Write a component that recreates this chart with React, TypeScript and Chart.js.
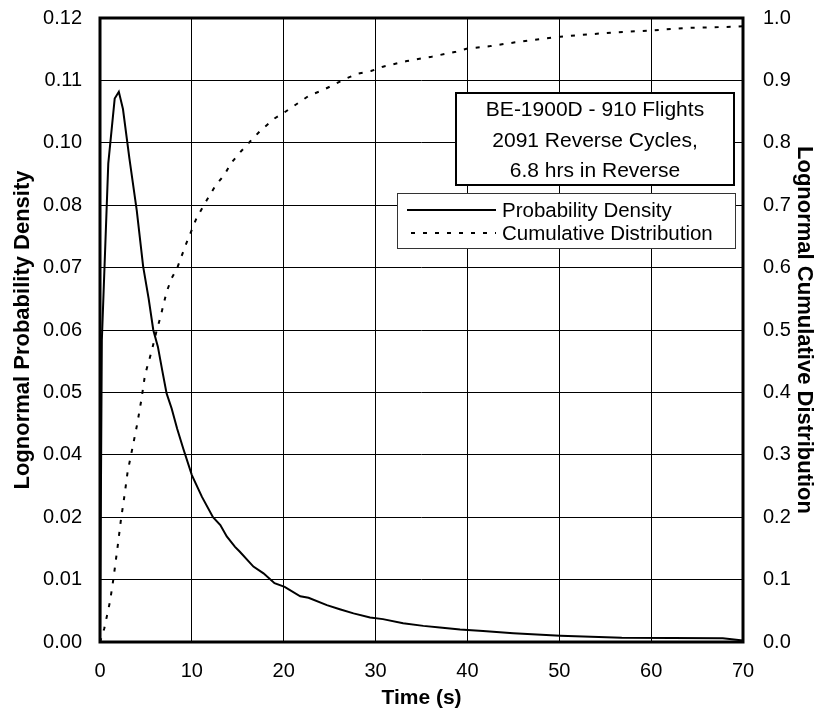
import React, { useEffect, useRef } from 'react';
import { Chart, registerables } from 'chart.js';

Chart.register(...registerables);

// ---------- data ----------
const xTickValues = [0, 10, 20, 30, 40, 50, 60, 70];
const xTickLabels = ['0', '10', '20', '30', '40', '50', '60', '70'];

const leftTickValues = [0, 0.012, 0.024, 0.036, 0.048, 0.06, 0.072, 0.084, 0.096, 0.108, 0.12];
const leftTickLabels = ['0.00', '0.01', '0.02', '0.04', '0.05', '0.06', '0.07', '0.08', '0.10', '0.11', '0.12'];

const rightTickValues = [0, 0.1, 0.2, 0.3, 0.4, 0.5, 0.6, 0.7, 0.8, 0.9, 1.0];
const rightTickLabels = ['0.0', '0.1', '0.2', '0.3', '0.4', '0.5', '0.6', '0.7', '0.8', '0.9', '1.0'];

const densityTime = [
  0, 0.2, 0.9, 1.6, 2.05, 2.5, 3.2, 4.0, 4.7, 5.3, 5.8, 6.3, 6.8, 7.25, 7.8, 8.4, 9.06, 10.0,
  11.1, 12.3, 13.1, 13.8, 14.7, 15.2, 16.7, 17.8, 19.0, 20.1, 21.8, 22.7, 24.7, 26.1, 27.6,
  29.4, 30.8, 33.0, 35.2, 37.0, 39.2, 41.7, 45.0, 50.1, 56.8, 67.8, 70,
];
const densityValue = [
  0, 0.058, 0.092, 0.1045, 0.1058, 0.1025, 0.093, 0.083, 0.0722, 0.066, 0.06, 0.0568, 0.052,
  0.0478, 0.0449, 0.041, 0.0372, 0.0321, 0.0279, 0.024, 0.0225, 0.0203, 0.0183, 0.0174, 0.0145,
  0.0132, 0.0113, 0.0106, 0.0088, 0.0085, 0.0071, 0.0063, 0.0055, 0.0047, 0.0044, 0.0036,
  0.0031, 0.0028, 0.0024, 0.0021, 0.0017, 0.0012, 0.0008, 0.0007, 0.0003,
];

const cdfTime = [
  0, 0.47, 1.09, 1.45, 1.92, 2.29, 2.65, 3.01, 3.6, 4.06, 4.5, 4.9, 5.6, 6.1, 6.6, 7.25, 7.8,
  8.4, 9.4, 10.5, 11.5, 12.6, 13.56, 14.3, 15.27, 16.4, 17.5, 19.0, 20.1, 21.7, 22.8, 24.2,
  25.5, 26.8, 28.1, 29.5, 30.8, 33.4, 36.1, 38.75, 40, 42.5, 45.2, 47.8, 50.1, 52.4, 56.2, 60,
  63.7, 69, 70,
];
const cdfValue = [
  0, 0.022, 0.065, 0.1, 0.153, 0.197, 0.233, 0.273, 0.316, 0.35, 0.388, 0.428, 0.465, 0.495,
  0.522, 0.561, 0.583, 0.599, 0.639, 0.679, 0.705, 0.732, 0.749, 0.768, 0.785, 0.803, 0.82,
  0.839, 0.849, 0.865, 0.876, 0.884, 0.8935, 0.903, 0.911, 0.915, 0.922, 0.931, 0.938, 0.946,
  0.951, 0.955, 0.961, 0.966, 0.97, 0.973, 0.977, 0.98, 0.984, 0.986, 0.987,
];

const seriesLabels = ['Probability Density', 'Cumulative Distribution'];
const annotationLines = ['BE-1900D - 910 Flights', '2091 Reverse Cycles,', '6.8 hrs in Reverse'];
const xTitle = 'Time (s)';
const leftTitle = 'Lognormal Probability Density';
const rightTitle = 'Lognormal Cumulative Distribution';

// ---------- styling ----------
const FONT = "'Liberation Sans', Arial, Helvetica, sans-serif";
const CDF_DASH = [4, 8];
const CLEAR = 'rgba(0,0,0,0)';

const overlayPlugin = {
  id: 'overlay',
  afterDraw(chart: any) {
    const { ctx, chartArea: a } = chart;
    ctx.save();

    // plot frame
    ctx.strokeStyle = '#000';
    ctx.lineWidth = 3;
    ctx.setLineDash([]);
    ctx.strokeRect(a.left, a.top, a.right - a.left, a.bottom - a.top);

    // annotation box
    const bx = a.left + 356;
    const by = a.top + 75;
    const bw = 278;
    const bh = 92;
    ctx.fillStyle = '#fff';
    ctx.fillRect(bx, by, bw, bh);
    ctx.lineWidth = 2;
    ctx.strokeRect(bx, by, bw, bh);
    ctx.fillStyle = '#000';
    ctx.font = `21px ${FONT}`;
    ctx.textAlign = 'center';
    ctx.textBaseline = 'alphabetic';
    annotationLines.forEach((t, i) => {
      ctx.fillText(t, bx + bw / 2, by + 23 + i * 30.5);
    });

    // legend box
    const lx = a.left + 297;
    const ly = a.top + 175;
    const lw = 338;
    const lh = 55;
    ctx.fillStyle = '#fff';
    ctx.fillRect(lx, ly, lw, lh);
    ctx.lineWidth = 1;
    ctx.strokeStyle = '#333';
    ctx.strokeRect(lx + 0.5, ly + 0.5, lw, lh);

    const ds = chart.data.datasets;
    ctx.font = `20.5px ${FONT}`;
    ctx.textAlign = 'left';
    ctx.fillStyle = '#000';
    ds.forEach((d: any, i: number) => {
      const rowY = ly + 17 + i * 23;
      ctx.strokeStyle = d.borderColor;
      ctx.lineWidth = d.borderWidth;
      ctx.setLineDash(d.borderDash || []);
      ctx.beginPath();
      ctx.moveTo(lx + 10 + (i ? 4 : 0), rowY);
      ctx.lineTo(lx + 99, rowY);
      ctx.stroke();
      ctx.setLineDash([]);
      ctx.fillText(d.label, lx + 105, rowY + 7);
    });

    ctx.restore();
  },
};

export default function App() {
  const ref = useRef<HTMLCanvasElement>(null);

  useEffect(() => {
    const canvas = ref.current;
    if (!canvas) return;
    const chart = new Chart(canvas, {
      type: 'line',
      data: {
        datasets: [
          {
            label: seriesLabels[0],
            data: densityTime.map((t, i) => ({ x: t, y: densityValue[i] })),
            yAxisID: 'y',
            borderColor: '#000',
            borderWidth: 2,
            pointRadius: 0,
            tension: 0,
            fill: false,
          },
          {
            label: seriesLabels[1],
            data: cdfTime.map((t, i) => ({ x: t, y: cdfValue[i] })),
            yAxisID: 'y2',
            borderColor: '#000',
            borderWidth: 2,
            borderDash: CDF_DASH,
            pointRadius: 0,
            tension: 0,
            fill: false,
          },
        ],
      },
      options: {
        responsive: false,
        animation: false,
        layout: { padding: { top: 18, left: 0, right: 0, bottom: 0 } },
        plugins: {
          legend: { display: false },
          tooltip: { enabled: false },
        },
        scales: {
          x: {
            type: 'linear',
            min: 0,
            max: 70,
            afterBuildTicks: (s: any) => {
              s.ticks = xTickValues.map((value) => ({ value }));
            },
            afterFit: (s: any) => {
              s.height = 71;
            },
            ticks: {
              callback: (_v: any, i: number) => xTickLabels[i],
              color: '#000',
              font: { family: FONT, size: 20 },
              padding: 0,
              maxRotation: 0,
              autoSkip: false,
            },
            grid: { color: '#000', lineWidth: 1, drawTicks: true, tickLength: 17, tickColor: CLEAR },
            border: { display: false },
            title: {
              display: true,
              text: xTitle,
              color: '#000',
              font: { family: FONT, size: 21, weight: 'bold' },
              padding: { top: 0, bottom: 2 },
            },
          },
          y: {
            type: 'linear',
            position: 'left',
            min: 0,
            max: 0.12,
            afterBuildTicks: (s: any) => {
              s.ticks = leftTickValues.map((value) => ({ value }));
            },
            afterFit: (s: any) => {
              s.width = 100;
            },
            ticks: {
              callback: (_v: any, i: number) => leftTickLabels[i],
              color: '#000',
              font: { family: FONT, size: 20 },
              padding: 0,
              autoSkip: false,
            },
            grid: { color: '#000', lineWidth: 1, drawTicks: true, tickLength: 18, tickColor: CLEAR },
            border: { display: false },
            title: {
              display: true,
              text: leftTitle,
              color: '#000',
              font: { family: FONT, size: 22, weight: 'bold' },
              padding: { top: 10, bottom: 0 },
            },
          },
          y2: {
            type: 'linear',
            position: 'right',
            min: 0,
            max: 1,
            afterBuildTicks: (s: any) => {
              s.ticks = rightTickValues.map((value) => ({ value }));
            },
            afterFit: (s: any) => {
              s.width = 74;
            },
            ticks: {
              callback: (_v: any, i: number) => rightTickLabels[i],
              color: '#000',
              font: { family: FONT, size: 20 },
              padding: 0,
              autoSkip: false,
            },
            grid: { drawOnChartArea: false, drawTicks: true, tickLength: 20, tickColor: CLEAR },
            border: { display: false },
            title: {
              display: true,
              text: rightTitle,
              color: '#000',
              font: { family: FONT, size: 22, weight: 'bold' },
              padding: { top: 0, bottom: 0 },
            },
          },
        },
      },
      plugins: [overlayPlugin],
    });
    return () => chart.destroy();
  }, []);

  return (
    <div style={{ position: 'absolute', left: 0, top: 0, width: 817, height: 713, background: '#fff' }}>
      <canvas ref={ref} width={817} height={713} style={{ display: 'block' }} />
    </div>
  );
}
